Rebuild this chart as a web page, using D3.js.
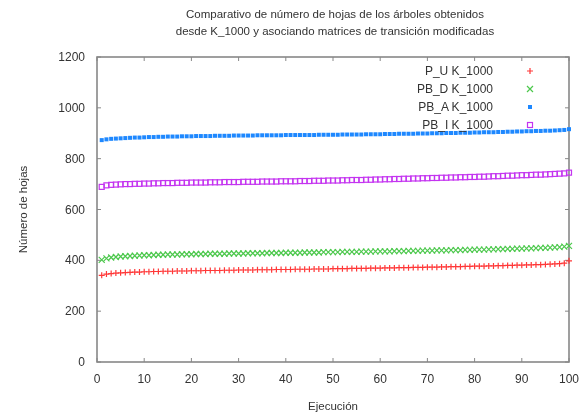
<!DOCTYPE html>
<html>
<head>
<meta charset="utf-8">
<script src="https://cdn.jsdelivr.net/npm/d3@7.9.0/dist/d3.min.js"></script>
<style>
  body { margin: 0; background: #fff; }
  svg { display: block; font-family: "Liberation Sans", Arial, sans-serif; filter: blur(0.35px); }
  text { fill: #333; }
</style>
</head>
<body>
<div id="chart"></div>
<script>
// values per run (Ejecución 1..100)
const runs = d3.range(1, 101);

const puValues = [
  341, 346, 348, 350, 351, 352, 353, 354, 354, 355,
  355, 356, 356, 357, 357, 357, 358, 358, 358, 359,
  359, 359, 360, 360, 360, 360, 361, 361, 361, 362,
  362, 362, 362, 363, 363, 363, 363, 364, 364, 364,
  364, 365, 365, 365, 365, 366, 366, 366, 366, 367,
  367, 367, 367, 368, 368, 368, 368, 369, 369, 369,
  370, 370, 370, 371, 371, 371, 372, 372, 372, 373,
  373, 373, 374, 374, 375, 375, 375, 376, 376, 377,
  377, 377, 378, 378, 379, 379, 380, 380, 381, 381,
  382, 382, 383, 383, 384, 385, 386, 387, 389, 398
];

const pbdValues = [
  402, 408, 411, 413, 415, 416, 417, 418, 419, 420,
  420, 421, 422, 422, 423, 423, 423, 424, 424, 424,
  425, 425, 425, 426, 426, 426, 426, 427, 427, 427,
  427, 428, 428, 428, 428, 429, 429, 429, 429, 430,
  430, 430, 430, 431, 431, 431, 431, 432, 432, 432,
  432, 433, 433, 433, 433, 434, 434, 434, 435, 435,
  435, 435, 436, 436, 436, 437, 437, 437, 438, 438,
  438, 439, 439, 439, 440, 440, 440, 441, 441, 442,
  442, 442, 443, 443, 444, 444, 445, 445, 446, 446,
  447, 447, 448, 449, 449, 450, 451, 452, 454, 457
];

const pbaValues = [
  873, 876, 878, 879, 880, 881, 882, 883, 883, 884,
  885, 885, 886, 886, 887, 887, 887, 888, 888, 888,
  889, 889, 889, 889, 890, 890, 890, 890, 891, 891,
  891, 891, 891, 892, 892, 892, 892, 892, 892, 893,
  893, 893, 893, 893, 893, 893, 894, 894, 894, 894,
  894, 895, 895, 895, 895, 895, 896, 896, 896, 896,
  897, 897, 897, 898, 898, 898, 898, 899, 899, 899,
  900, 900, 900, 901, 901, 901, 902, 902, 902, 903,
  903, 904, 904, 904, 905, 905, 906, 906, 907, 907,
  908, 908, 909, 909, 910, 910, 911, 912, 913, 916
];

const pbiValues = [
  689, 695, 697, 698, 699, 700, 700, 701, 701, 702,
  702, 703, 703, 704, 704, 704, 705, 705, 705, 706,
  706, 706, 706, 707, 707, 707, 708, 708, 708, 708,
  709, 709, 709, 709, 710, 710, 710, 710, 711, 711,
  711, 711, 712, 712, 712, 713, 713, 713, 714, 714,
  714, 715, 715, 716, 716, 716, 717, 717, 718, 718,
  719, 719, 720, 720, 721, 721, 722, 722, 723, 723,
  724, 724, 725, 725, 726, 726, 727, 727, 728, 728,
  729, 729, 730, 731, 731, 732, 733, 733, 734, 735,
  735, 736, 737, 737, 738, 739, 740, 741, 742, 745
];

const seriesNames = ["P_U K_1000", "PB_D K_1000", "PB_A K_1000", "PB_I K_1000"];
const seriesColors = ["#ff3838", "#4cc84c", "#1e88ff", "#c434f0"];
const seriesMarkers = ["plus", "cross", "fsquare", "osquare"];
const seriesValues = [puValues, pbdValues, pbaValues, pbiValues];

const xTicks = d3.range(0, 101, 10);
const yTicks = d3.range(0, 1201, 200);

const width = 587;
const height = 418;
const margin = { top: 57, right: 18, bottom: 56, left: 97 };

const svg = d3.select("#chart").append("svg")
  .attr("width", width)
  .attr("height", height);

const x = d3.scaleLinear().domain([0, 100]).range([margin.left, width - margin.right]);
const y = d3.scaleLinear().domain([0, 1200]).range([height - margin.bottom, margin.top]);

// title
const title = svg.append("text")
  .attr("text-anchor", "middle")
  .attr("font-size", 11.5);
title.append("tspan").attr("x", 335).attr("y", 18)
  .text("Comparativo de número de hojas de los árboles obtenidos");
title.append("tspan").attr("x", 335).attr("y", 35)
  .text("desde K_1000 y asociando matrices de transición modificadas");

// ticks (inside, mirrored like gnuplot)
const tickLen = 4;
const frame = svg.append("g").attr("stroke", "#888").attr("stroke-width", 1);
for (const t of yTicks) {
  frame.append("line").attr("x1", x(0)).attr("x2", x(0) + tickLen).attr("y1", y(t)).attr("y2", y(t));
  frame.append("line").attr("x1", x(100)).attr("x2", x(100) - tickLen).attr("y1", y(t)).attr("y2", y(t));
}
for (const t of xTicks) {
  frame.append("line").attr("x1", x(t)).attr("x2", x(t)).attr("y1", y(0)).attr("y2", y(0) - tickLen);
  frame.append("line").attr("x1", x(t)).attr("x2", x(t)).attr("y1", y(1200)).attr("y2", y(1200) + tickLen);
}

svg.append("rect")
  .attr("x", x(0)).attr("y", y(1200))
  .attr("width", x(100) - x(0)).attr("height", y(0) - y(1200))
  .attr("fill", "none").attr("stroke", "#888").attr("stroke-width", 1.6);

// tick labels
svg.append("g").selectAll("text").data(yTicks).join("text")
  .attr("x", x(0) - 12).attr("y", (d) => y(d) + 4)
  .attr("text-anchor", "end").attr("font-size", 12)
  .text((d) => d);
svg.append("g").selectAll("text").data(xTicks).join("text")
  .attr("x", (d) => x(d)).attr("y", y(0) + 21)
  .attr("text-anchor", "middle").attr("font-size", 12)
  .text((d) => d);

// axis titles
svg.append("text")
  .attr("x", (x(0) + x(100)) / 2).attr("y", 410)
  .attr("text-anchor", "middle").attr("font-size", 11.5)
  .text("Ejecución");
svg.append("text")
  .attr("transform", `translate(27, ${(y(0) + y(1200)) / 2}) rotate(-90)`)
  .attr("text-anchor", "middle").attr("font-size", 11.5)
  .text("Número de hojas");

function drawMarker(g, kind, color, cx, cy) {
  const s = 3;
  if (kind === "plus") {
    g.append("path").attr("d", `M${cx - s},${cy}H${cx + s}M${cx},${cy - s}V${cy + s}`)
      .attr("stroke", color).attr("stroke-width", 1.2).attr("fill", "none");
  } else if (kind === "cross") {
    g.append("path").attr("d", `M${cx - s},${cy - s}L${cx + s},${cy + s}M${cx - s},${cy + s}L${cx + s},${cy - s}`)
      .attr("stroke", color).attr("stroke-width", 1.2).attr("fill", "none");
  } else if (kind === "fsquare") {
    g.append("rect").attr("x", cx - 2).attr("y", cy - 2).attr("width", 4).attr("height", 4)
      .attr("fill", color);
  } else {
    g.append("rect").attr("x", cx - 2.5).attr("y", cy - 2.5).attr("width", 5).attr("height", 5)
      .attr("fill", "none").attr("stroke", color).attr("stroke-width", 1.2);
  }
}

// points
seriesValues.forEach((vals, i) => {
  const g = svg.append("g");
  vals.forEach((v, j) => drawMarker(g, seriesMarkers[i], seriesColors[i], x(runs[j]), y(v)));
});

// legend
const legendY = [71, 89, 107, 125];
seriesNames.forEach((name, i) => {
  svg.append("text")
    .attr("x", 493).attr("y", legendY[i] + 4)
    .attr("text-anchor", "end").attr("font-size", 12)
    .text(name);
  drawMarker(svg.append("g"), seriesMarkers[i], seriesColors[i], 530, legendY[i]);
});
</script>
</body>
</html>
